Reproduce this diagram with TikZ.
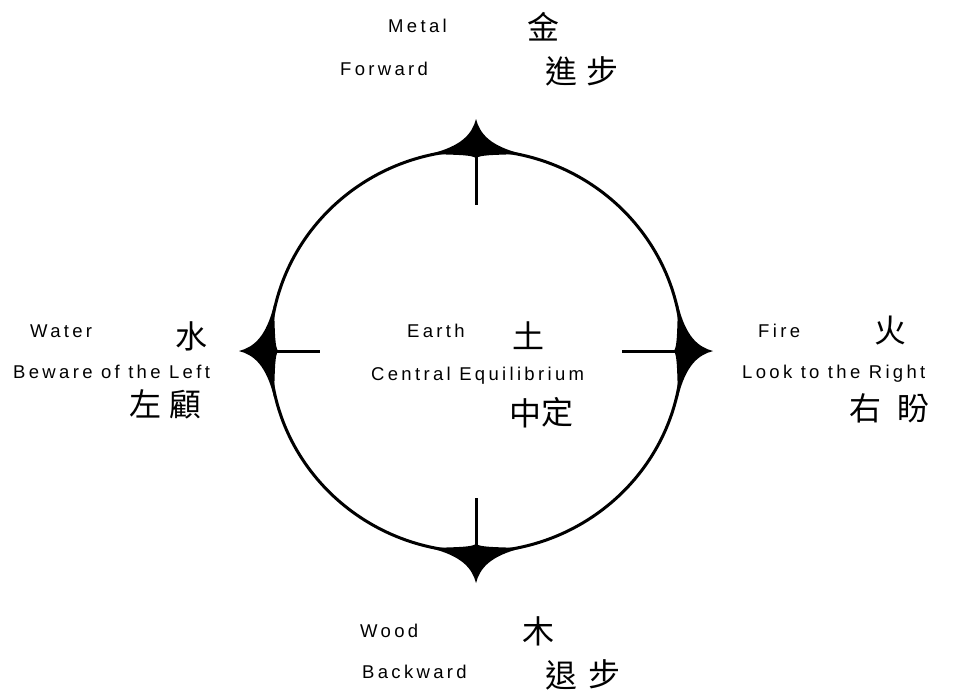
\documentclass[tikz,border=0pt]{standalone}
\usepackage{fontspec}
\newfontfamily\lat{Liberation Sans}[LetterSpace=18]
\newfontfamily\cjk{Noto Sans CJK TC}
\tikzset{
  lab/.style={anchor=base west, inner sep=0pt, font=\lat\fontsize{18.5}{20}\selectfont},
  han/.style={anchor=center, inner sep=0pt, font=\cjk\fontsize{32}{32}\selectfont},
  ring/.style={line width=3pt},
  tick/.style={line width=3pt},
  spike/.style={fill=black, draw=none},
}
\begin{document}
\begin{tikzpicture}[x=1pt,y=-1pt]
\useasboundingbox (0,0) rectangle (953,694);
% circle
\coordinate (C) at (476,351);
\draw[ring] (C) ellipse [x radius=206, y radius=201];
\coordinate (N) at (476,150);
\coordinate (S) at (476,552);
\coordinate (W) at (270,351);
\coordinate (E) at (682,351);
\coordinate (Nin) at (476,205);
\coordinate (Sin) at (476,498);
\coordinate (Win) at (320,351);
\coordinate (Ein) at (622,351);
% spikes
\foreach \p/\r in {N/0,E/-90,S/180,W/90}{
  \begin{scope}[shift={(\p)}, rotate=\r]
  \fill[spike] (0,-31) .. controls (4,-16) and (14,-4) .. (46,4)
    .. controls (14,5) and (5,5) .. (0,8)
    .. controls (-5,5) and (-14,5) .. (-46,4)
    .. controls (-14,-4) and (-4,-16) .. (0,-31) -- cycle;
  \end{scope}
}
% ticks
\draw[tick] (N) -- (Nin);
\draw[tick] (S) -- (Sin);
\draw[tick] (W) -- (Win);
\draw[tick] (E) -- (Ein);
% top
\node[lab] (metal) at (388,32) {Metal};
\node[lab] (forward) at (340,75) {Forward};
\node[han] (jin) at (543,27) {金};
\node[han] (jin2) at (561,71) {進};
\node[han] (bu1) at (602,71) {步};
% left
\node[lab] (water) at (30,337) {Water};
\node[lab] (beware) at (13,378) {Beware of the Left};
\node[han] (shui) at (191,336) {水};
\node[han] (zuo) at (145,404) {左};
\node[han] (gu) at (185,405) {顧};
% right
\node[lab] (fire) at (758,337) {Fire};
\node[lab] (look) at (742,378) {Look to the Right};
\node[han] (huo) at (890,331) {火};
\node[han] (you) at (865,408) {右};
\node[han] (pan) at (913,409) {盼};
% centre
\node[lab] (earth) at (407,337) {Earth};
\node[lab] (central) at (371,380) {Central Equilibrium};
\node[han] (tu) at (528,336) {土};
\node[han] (zhong) at (525,413) {中};
\node[han] (ding) at (557,412) {定};
% bottom
\node[lab] (wood) at (360,637) {Wood};
\node[lab] (backward) at (362,678) {Backward};
\node[han] (mu) at (538,631) {木};
\node[han] (tui) at (561,675) {退};
\node[han] (bu2) at (604,674) {步};
\end{tikzpicture}
\end{document}
